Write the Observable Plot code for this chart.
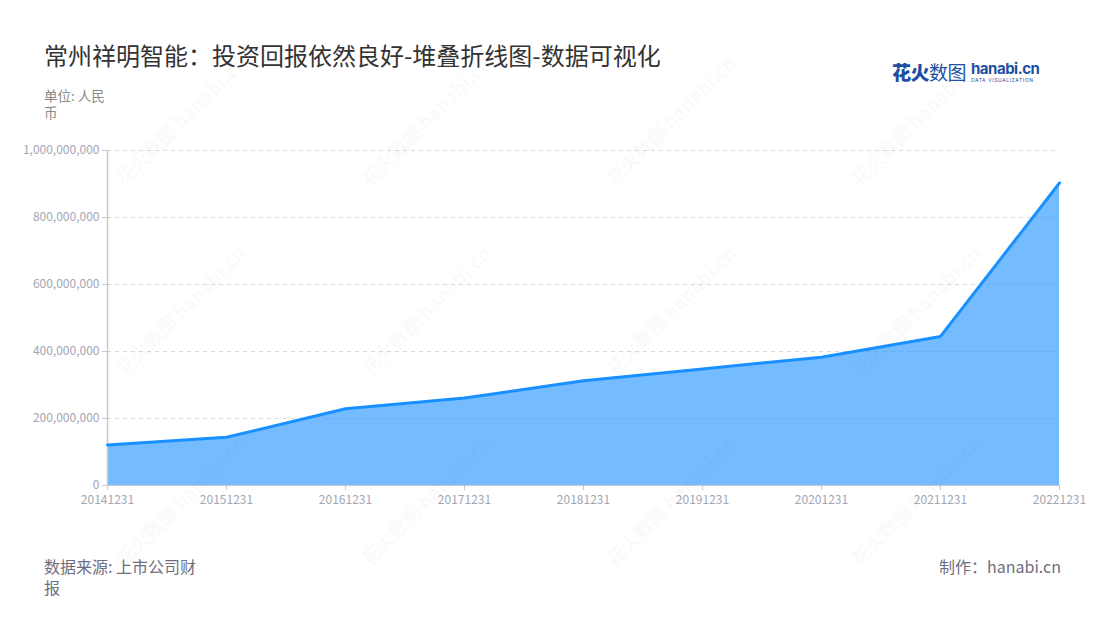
<!DOCTYPE html>
<html>
<head>
<meta charset="utf-8">
<script src="https://cdn.jsdelivr.net/npm/d3@7"></script>
<script src="https://cdn.jsdelivr.net/npm/@observablehq/plot@0.6"></script>
<style>
  html, body { margin: 0; padding: 0; background: #fff; }
  body { width: 1100px; height: 620px; position: relative; overflow: hidden;
         font-family: "Noto Sans CJK SC", "Noto Sans", sans-serif; }
  #title { position: absolute; left: 44px; top: 38px; font-size: 24px; line-height: 34px; color: #333; white-space: nowrap; }
  #unit { position: absolute; left: 44px; top: 87px; width: 72px; font-size: 13.5px; line-height: 17px; color: #888; }
  #chart { position: absolute; left: 0; top: 130px; }
  #source { position: absolute; left: 44px; top: 556px; width: 160px; font-size: 16px; line-height: 21px; color: #6e6e7e; }
  #credit { position: absolute; right: 39px; top: 556px; font-size: 16px; line-height: 21px; color: #6e6e7e; white-space: nowrap; }
  #logo { position: absolute; left: 892px; top: 58px; display: flex; align-items: center; white-space: nowrap; }
  #logo .cn { font-size: 19px; color: #1d4fa3; letter-spacing: -0.5px; }
  #logo .cn b { font-weight: 900; }
  #logo .en { margin-left: 5px; display: flex; flex-direction: column; line-height: 1; }
  #logo .en b { font-family: "Inter", "Noto Sans", sans-serif; font-size: 15px; color: #1d4fa3; font-weight: 700; letter-spacing: -0.5px; }
  #logo .en i { font-style: normal; font-family: "Inter", sans-serif; font-size: 5px; color: #1d4fa3; letter-spacing: 0.6px; margin-top: 2px; }
  .wm { position: absolute; transform: translate(-50%, -50%) rotate(-45deg); font-size: 19px; font-weight: 700;
        color: rgba(110, 110, 120, 0.055); white-space: nowrap; pointer-events: none; z-index: 5; }
</style>
</head>
<body>
<div id="title">常州祥明智能：投资回报依然良好-堆叠折线图-数据可视化</div>
<div id="logo"><span class="cn"><b>花火</b>数图</span><span class="en"><b>hanabi.cn</b><i>DATA VISUALIZATION</i></span></div>
<div id="unit">单位: 人民币</div>
<div id="chart"></div>
<div id="source">数据来源: 上市公司财报</div>
<div id="credit">制作：hanabi.cn</div>
<script>
// ---- data ----
const dates = ["20141231", "20151231", "20161231", "20171231", "20181231", "20191231", "20201231", "20211231", "20221231"];
const values = [121000000, 144000000, 229000000, 261000000, 313000000, 348000000, 383000000, 445000000, 903000000];
const yTicks = [0, 200000000, 400000000, 600000000, 800000000, 1000000000];

const data = dates.map((d, i) => ({date: d, value: values[i]}));
const fmt = d3.format(",");

const chart = Plot.plot({
  width: 1100,
  height: 380,
  marginLeft: 107,
  marginRight: 41,
  marginTop: 20,
  marginBottom: 25,
  style: {fontFamily: '"Noto Sans CJK SC", "Noto Sans", sans-serif', fontSize: "12px", background: "transparent"},
  x: {type: "point", domain: dates, padding: 0},
  y: {domain: [0, 1000000000]},
  marks: [
    Plot.gridY(yTicks.slice(1), {stroke: "#d9d9d9", strokeOpacity: 1, strokeDasharray: "4,4"}),
    Plot.areaY(data, {x: "date", y: "value", fill: "#1890ff", fillOpacity: 0.6}),
    Plot.ruleY([0], {stroke: "#c8c8c8", strokeWidth: 1}),
    Plot.ruleX([dates[0]], {y1: 0, y2: 1000000000, stroke: "#c8c8c8", strokeWidth: 1.5}),
    Plot.lineY(data, {x: "date", y: "value", stroke: "#1890ff", strokeWidth: 3}),
    Plot.axisY({ticks: yTicks, tickFormat: fmt, tickSize: 5, tickPadding: 3, stroke: "#c8c8c8", fill: "#a3a6b4", label: null, fontSize: 12}),
    Plot.axisX({tickSize: 5, tickPadding: 5, stroke: "#c8c8c8", fill: "#a3a6b4", label: null, fontSize: 12})
  ]
});
document.getElementById("chart").appendChild(chart);

// faint watermarks
const wmX = [180, 425, 670, 915];
const wmY = [120, 310, 500];
for (const y of wmY) for (const x of wmX) {
  const d = document.createElement("div");
  d.className = "wm";
  d.style.left = x + "px";
  d.style.top = y + "px";
  d.textContent = "花火数图 hanabi.cn";
  document.body.appendChild(d);
}
</script>
</body>
</html>
